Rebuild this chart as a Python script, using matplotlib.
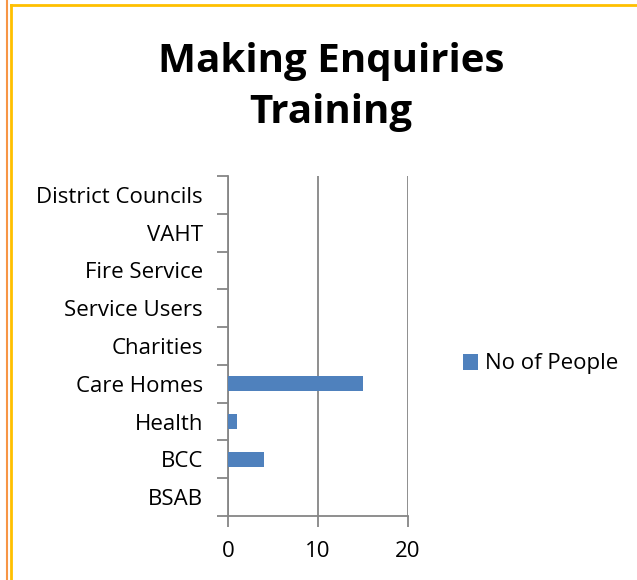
import matplotlib
matplotlib.use("Agg")
import matplotlib.pyplot as plt
from matplotlib.lines import Line2D
from matplotlib.patches import Patch

categories = ["BSAB", "BCC", "Health", "Care Homes", "Charities",
              "Service Users", "Fire Service", "VAHT", "District Councils"]
values = [0, 4, 1, 15, 0, 0, 0, 0, 0]
xticks = [0, 10, 20]
series_name = "No of People"
title = "Making Enquiries\nTraining"

W, H = 637, 580
fig = plt.figure(figsize=(W / 100, H / 100), dpi=100)
plt.rcParams['font.family'] = ['Open Sans', 'DejaVu Sans']

ax = fig.add_axes([228 / W, 1 - 516 / H, 180 / W, 340 / H])
bar_color = "#4F81BD"
grey = "#868686"
pos = list(range(len(categories)))
ax.barh(pos, values, height=0.4, color=bar_color, zorder=3)
ax.set_xlim(0, 20)
ax.set_ylim(-0.5, len(categories) - 0.5)
ax.set_xticks(xticks)
ax.set_xticklabels([str(t) for t in xticks], fontsize=16)
ax.set_yticks(pos)
ax.set_yticklabels(categories, fontsize=16)
ax.set_yticks([p - 0.5 for p in pos] + [len(categories) - 0.5], minor=True)
ax.tick_params(axis='y', which='major', length=0, pad=18)
ax.tick_params(axis='y', which='minor', length=8, color=grey, width=1.3)
ax.tick_params(axis='x', length=8, color=grey, width=1.3, pad=10)
ax.xaxis.grid(True, color=grey, linewidth=1.3, zorder=0)
for s in ["top", "right"]:
    ax.spines[s].set_visible(False)
for s in ["left", "bottom"]:
    ax.spines[s].set_color(grey)
    ax.spines[s].set_linewidth(1.3)

fig.text(331 / W, 1 - 87 / H, title, ha="center", va="center",
         fontsize=29, fontweight="bold", linespacing=1.42)

handles = [Patch(facecolor=bar_color, edgecolor="none", label=series_name)]
fig.legend(handles=handles, loc="center left", bbox_to_anchor=(454 / W, 1 - 364 / H),
           frameon=False, fontsize=16, handlelength=0.7, handleheight=0.7,
           handletextpad=0.3, borderaxespad=0)

# border lines
fig.add_artist(Line2D([7 / W, 7 / W], [0, 1], color="#F79646", linewidth=1.5, transform=fig.transFigure))
fig.add_artist(Line2D([11 / W, 11 / W], [0, 1 - 5 / H], color="#FFC000", linewidth=2, transform=fig.transFigure))
fig.add_artist(Line2D([11 / W, 1], [1 - 5 / H, 1 - 5 / H], color="#FFC000", linewidth=2, transform=fig.transFigure))

fig.savefig("out.png", dpi=100)
